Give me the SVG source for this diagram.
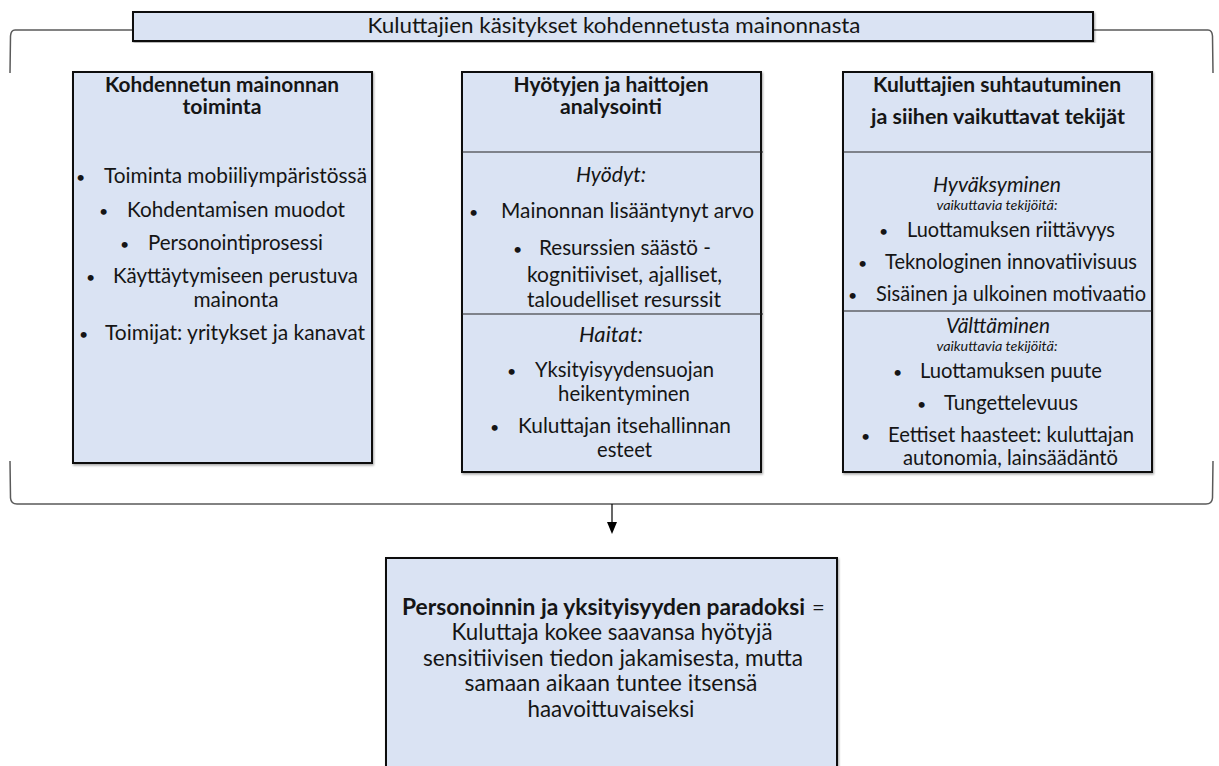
<svg xmlns="http://www.w3.org/2000/svg" width="1219" height="766" viewBox="0 0 1219 766">
  <defs>
    <style>
      text { font-family: Lato, "Open Sans", "Liberation Sans", sans-serif; fill: #151515; }
      .box { fill: #dae3f3; stroke: #111; stroke-width: 2; }
      .divider { stroke: #222; stroke-width: 1.2; }
      .brace { fill: none; stroke: #5a5a5a; stroke-width: 1.5; }
      .hd { font-size: 20px; font-weight: bold; }
      .tx { font-size: 22px; }
      .it { font-size: 22px; font-style: italic; }
      .sm { font-size: 13px; font-style: italic; }
      .bl { font-size: 16px; }
      .mid { text-anchor: middle; }
    </style>
    <filter id="shadow" x="-5%" y="-5%" width="110%" height="110%">
      <feDropShadow dx="1" dy="1.5" stdDeviation="0.8" flood-color="#000" flood-opacity="0.35"/>
    </filter>
    <marker id="arrowhead" markerWidth="12" markerHeight="10" refX="0" refY="5" orient="auto" markerUnits="userSpaceOnUse" viewBox="0 0 12 10">
      <path d="M0,0 L12,5 L0,10 Z" fill="#000"/>
    </marker>
  </defs>

  <!-- Connectors: enclosing bracket and downward arrow -->
  <g id="connectors">
    <path class="brace" d="M133,30 H15 Q11,30 10.5,36 L10,73"/>
    <path class="brace" d="M1093,30 H1208 Q1212,30 1212.5,36 L1213,73"/>
    <path class="brace" d="M10,461 L10.5,498 Q11,504 17,504 H1206 Q1212,504 1212.5,498 L1213,461"/>
    <line x1="612" y1="504" x2="612" y2="522" stroke="#000" stroke-width="1.2" marker-end="url(#arrowhead)"/>
  </g>

  <!-- Title -->
  <g id="title">
    <rect class="box" x="133" y="12" width="960" height="29" filter="url(#shadow)"/>
    <text class="mid" x="614" y="33" font-size="21" textLength="493" lengthAdjust="spacingAndGlyphs">Kuluttajien käsitykset kohdennetusta mainonnasta</text>
  </g>

  <!-- Left column -->
  <g id="node-toiminta">
    <rect class="box" x="73" y="72" width="299" height="391" filter="url(#shadow)"/>
    <text class="hd mid" x="222" y="92" textLength="234" lengthAdjust="spacingAndGlyphs">Kohdennetun mainonnan</text>
    <text class="hd mid" x="222" y="114" textLength="79" lengthAdjust="spacingAndGlyphs">toiminta</text>
    <text class="bl" x="76" y="183">•</text>
    <text class="tx" x="104" y="183" textLength="263" lengthAdjust="spacingAndGlyphs">Toiminta mobiiliympäristössä</text>
    <text class="bl" x="99" y="217">•</text>
    <text class="tx" x="127" y="217" textLength="218" lengthAdjust="spacingAndGlyphs">Kohdentamisen muodot</text>
    <text class="bl" x="120" y="250">•</text>
    <text class="tx" x="148" y="250" textLength="175" lengthAdjust="spacingAndGlyphs">Personointiprosessi</text>
    <text class="bl" x="86" y="283">•</text>
    <text class="tx" x="113" y="283" textLength="245" lengthAdjust="spacingAndGlyphs">Käyttäytymiseen perustuva</text>
    <text class="tx mid" x="236" y="307" textLength="85" lengthAdjust="spacingAndGlyphs">mainonta</text>
    <text class="bl" x="79" y="340">•</text>
    <text class="tx" x="105" y="340" textLength="260" lengthAdjust="spacingAndGlyphs">Toimijat: yritykset ja kanavat</text>
  </g>

  <!-- Middle column -->
  <g id="node-analysointi">
    <rect class="box" x="462" y="72" width="299" height="400" filter="url(#shadow)"/>
    <line class="divider" x1="462" y1="152" x2="763" y2="152"/>
    <line class="divider" x1="462" y1="314" x2="763" y2="314" stroke="#555"/>
    <text class="hd mid" x="611" y="92" textLength="195" lengthAdjust="spacingAndGlyphs">Hyötyjen ja haittojen</text>
    <text class="hd mid" x="611" y="114" textLength="102" lengthAdjust="spacingAndGlyphs">analysointi</text>
    <text class="it mid" x="611" y="182" textLength="70" lengthAdjust="spacingAndGlyphs">Hyödyt:</text>
    <text class="bl" x="469" y="218">•</text>
    <text class="tx" x="501" y="218" textLength="253" lengthAdjust="spacingAndGlyphs">Mainonnan lisääntynyt arvo</text>
    <text class="bl" x="513" y="255">•</text>
    <text class="tx" x="539" y="255" textLength="172" lengthAdjust="spacingAndGlyphs">Resurssien säästö -</text>
    <text class="tx" x="527" y="282" textLength="195" lengthAdjust="spacingAndGlyphs">kognitiiviset, ajalliset,</text>
    <text class="tx" x="527" y="307" textLength="194" lengthAdjust="spacingAndGlyphs">taloudelliset resurssit</text>
    <text class="it mid" x="611" y="342" textLength="64" lengthAdjust="spacingAndGlyphs">Haitat:</text>
    <text class="bl" x="507" y="377">•</text>
    <text class="tx" x="535" y="377" textLength="179" lengthAdjust="spacingAndGlyphs">Yksityisyydensuojan</text>
    <text class="tx" x="558" y="401" textLength="132" lengthAdjust="spacingAndGlyphs">heikentyminen</text>
    <text class="bl" x="490" y="433">•</text>
    <text class="tx" x="518" y="433" textLength="213" lengthAdjust="spacingAndGlyphs">Kuluttajan itsehallinnan</text>
    <text class="tx" x="597" y="457" textLength="55" lengthAdjust="spacingAndGlyphs">esteet</text>
  </g>

  <!-- Right column -->
  <g id="node-suhtautuminen">
    <rect class="box" x="843" y="72" width="309" height="400" filter="url(#shadow)"/>
    <line class="divider" x1="843" y1="152" x2="1152" y2="152"/>
    <line class="divider" x1="843" y1="311" x2="1152" y2="311"/>
    <text class="hd mid" x="997" y="92" textLength="248" lengthAdjust="spacingAndGlyphs">Kuluttajien suhtautuminen</text>
    <text class="hd mid" x="998" y="124" textLength="254" lengthAdjust="spacingAndGlyphs">ja siihen vaikuttavat tekijät</text>
    <text class="it mid" x="997" y="192" textLength="128" lengthAdjust="spacingAndGlyphs">Hyväksyminen</text>
    <text class="sm mid" x="997" y="210" textLength="121" lengthAdjust="spacingAndGlyphs">vaikuttavia tekijöitä:</text>
    <text class="bl" x="879" y="237">•</text>
    <text class="tx" x="907" y="237" textLength="208" lengthAdjust="spacingAndGlyphs">Luottamuksen riittävyys</text>
    <text class="bl" x="858" y="269">•</text>
    <text class="tx" x="885" y="269" textLength="252" lengthAdjust="spacingAndGlyphs">Teknologinen innovatiivisuus</text>
    <text class="bl" x="848" y="301">•</text>
    <text class="tx" x="876" y="301" textLength="270" lengthAdjust="spacingAndGlyphs">Sisäinen ja ulkoinen motivaatio</text>
    <text class="it mid" x="998" y="333" textLength="104" lengthAdjust="spacingAndGlyphs">Välttäminen</text>
    <text class="sm mid" x="997" y="351" textLength="121" lengthAdjust="spacingAndGlyphs">vaikuttavia tekijöitä:</text>
    <text class="bl" x="893" y="378">•</text>
    <text class="tx" x="920" y="378" textLength="182" lengthAdjust="spacingAndGlyphs">Luottamuksen puute</text>
    <text class="bl" x="917" y="410">•</text>
    <text class="tx" x="944" y="410" textLength="134" lengthAdjust="spacingAndGlyphs">Tungettelevuus</text>
    <text class="bl" x="861" y="442">•</text>
    <text class="tx" x="888" y="442" textLength="246" lengthAdjust="spacingAndGlyphs">Eettiset haasteet: kuluttajan</text>
    <text class="tx" x="903" y="465" textLength="215" lengthAdjust="spacingAndGlyphs">autonomia, lainsäädäntö</text>
  </g>

  <!-- Outcome -->
  <g id="node-paradoksi">
    <rect class="box" x="386" y="558" width="451" height="220" filter="url(#shadow)"/>
    <text x="402" y="615" font-size="22" font-weight="bold" textLength="403" lengthAdjust="spacingAndGlyphs">Personoinnin ja yksityisyyden paradoksi</text>
    <text x="812" y="615" font-size="22">=</text>
    <text class="mid" x="612" y="640" font-size="23" textLength="321" lengthAdjust="spacingAndGlyphs">Kuluttaja kokee saavansa hyötyjä</text>
    <text class="mid" x="613" y="666" font-size="23" textLength="380" lengthAdjust="spacingAndGlyphs">sensitiivisen tiedon jakamisesta, mutta</text>
    <text class="mid" x="611" y="691" font-size="23" textLength="293" lengthAdjust="spacingAndGlyphs">samaan aikaan tuntee itsensä</text>
    <text class="mid" x="611" y="717" font-size="23" textLength="167" lengthAdjust="spacingAndGlyphs">haavoittuvaiseksi</text>
  </g>
</svg>
